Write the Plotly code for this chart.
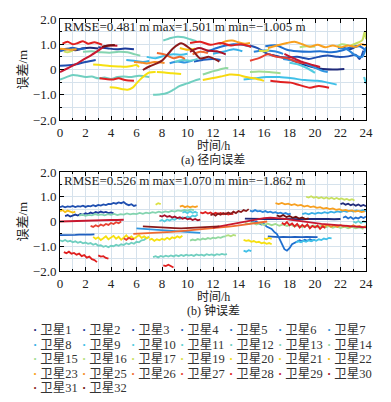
import plotly.graph_objects as go

# ---------------- satellites ----------------
sat_ids = [1, 2, 3, 4, 5, 6, 7, 8, 9, 10, 11, 12, 13, 14, 15, 16, 17,
           19, 20, 21, 22, 23, 25, 26, 27, 28, 29, 30, 31, 32]
sat_names = ["卫星%d" % i for i in sat_ids]
sat_colors = ["#1f2a7a", "#1b3a9a", "#1f4fb0", "#1f5fc0", "#2070d0", "#2a85da",
              "#2f95e0", "#38aee6", "#40c0e8", "#50cce0", "#60d0d0", "#70cfc0",
              "#84d4b0", "#90d8a0", "#a0dc90", "#b4e07c", "#c8e060", "#dce040",
              "#f6e010", "#f8d810", "#f8c010", "#f8a020", "#f48c28", "#f06a30",
              "#e84030", "#e02020", "#c81830", "#a81028", "#8b1a1a", "#701010"]

x_tick_vals = [0, 2, 4, 6, 8, 10, 12, 14, 16, 18, 20, 22, 24]
y_tick_vals = [-2, -1, 0, 1, 2]
y_tick_text = ["\u22122.0", "\u22121.0", "0", "1.0", "2.0"]

stats_a = "RMSE=0.481 m max=1.501 m min=\u22121.005 m"
stats_b = "RMSE=0.526 m max=1.070 m min=\u22121.862 m"
x_title = "时间/h"
y_title = "误差/m"
caption_a = "(a) 径向误差"
caption_b = "(b) 钟误差"

# ---------------- (a) radial error arcs: (hour, metre) ----------------
rad_01 = [[(0.0, 0.78), (0.6, 0.82), (1.2, 0.76), (1.8, 0.84), (2.4, 0.86), (3.0, 0.83)],
          [(16.6, 0.58), (17.4, 0.48), (18.2, 0.36), (19.0, 0.22), (19.8, 0.1), (20.6, 0.02), (21.4, 0.0), (22.3, 0.02)]]
rad_02 = [[(3.0, 0.88), (3.7, 0.84), (4.4, 0.8), (5.1, 0.83), (5.8, 0.8)],
          [(22.2, 0.86), (22.7, 0.8), (23.2, 0.9), (23.6, 0.95)]]
rad_03 = [[(0.0, 0.15), (0.7, 0.17), (1.4, 0.22), (2.0, 0.3), (2.8, 0.38)],
          [(14.9, 0.95), (15.5, 0.85), (16.3, 0.62), (17.0, 0.52), (17.8, 0.48), (18.6, 0.5), (19.5, 0.42),
           (20.3, 0.5), (21.0, 0.55), (21.8, 0.5), (22.6, 0.52), (23.2, 0.58), (23.5, 0.42), (23.8, 0.75)]]
rad_04 = [[(0.0, 0.72), (0.5, 0.8), (1.0, 0.86), (1.5, 0.8), (2.0, 0.84)],
          [(10.5, 0.32), (11.2, 0.38), (12.0, 0.42), (12.6, 0.38)]]
rad_05 = [[(11.5, 0.7), (12.3, 0.85), (13.0, 0.95), (13.6, 1.0), (14.3, 0.98), (15.0, 0.9)],
          [(16.1, 0.92), (17.0, 0.95), (17.8, 0.78), (18.6, 0.72), (19.5, 0.7), (20.4, 0.72), (21.3, 0.68),
           (22.1, 0.75), (22.9, 0.9), (23.5, 0.92), (24.0, 0.75)]]
rad_06 = [[(15.2, 0.7), (16.0, 0.75), (16.8, 0.72), (17.5, 0.62)],
          [(21.8, 0.85), (22.5, 0.8), (23.2, 0.55), (23.7, 0.5), (24.0, 0.88)]]
rad_07 = [[(17.5, 0.42), (18.3, 0.36), (19.0, 0.28), (19.8, 0.12), (20.5, -0.04), (21.0, -0.1)],
          [(8.6, 0.25), (9.2, 0.32), (9.8, 0.28), (10.4, 0.35)]]
rad_08 = [[(5.2, 0.38), (5.8, 0.35), (6.5, 0.3), (7.0, 0.34)],
          [(12.0, 0.62), (12.8, 0.7), (13.6, 0.8), (14.3, 0.72)]]
rad_09 = [[(6.8, 0.5), (7.5, 0.45), (8.2, 0.55), (8.9, 0.6), (9.5, 0.58), (10.0, 0.62)],
          [(14.4, -0.4), (15.3, -0.35), (16.2, -0.3), (17.2, -0.3), (18.2, -0.35), (19.2, -0.42),
           (20.2, -0.45), (21.0, -0.52), (21.7, -0.6)]]
rad_10 = [[(18.0, 0.27), (18.7, 0.2), (19.4, 0.05), (20.0, -0.13)],
          [(23.85, -0.3), (24.0, -0.55)]]
rad_11 = [[(9.0, 0.3), (9.6, 0.38), (10.2, 0.35), (10.8, 0.42)]]
rad_12 = [[(0.0, -0.4), (0.5, -0.3), (1.0, -0.22), (1.5, -0.25), (2.0, -0.3), (2.5, -0.28), (3.0, -0.35),
           (3.5, -0.32), (4.0, -0.38), (4.5, -0.3), (5.0, -0.28), (5.5, -0.3), (6.2, -0.25), (7.0, -0.3)],
          [(7.3, -1.0), (7.9, -0.98), (8.4, -0.93), (8.9, -0.8), (9.4, -0.65), (10.0, -0.55), (10.5, -0.45), (11.0, -0.38)],
          [(8.1, 1.15), (8.7, 1.25), (9.2, 1.3), (9.7, 1.28), (10.2, 1.2), (10.7, 1.12)]]
rad_13 = [[(1.8, 0.7), (2.5, 0.72), (3.2, 0.68), (3.9, 0.66), (4.6, 0.7), (5.3, 0.68), (5.9, 0.6), (6.3, 0.55)]]
rad_14 = [[(11.2, -0.2), (11.8, -0.1), (12.4, -0.02), (13.0, 0.06), (13.2, 0.05)]]
rad_15 = [[(14.9, -0.1), (15.6, -0.08), (16.4, -0.1), (17.3, -0.15)]]
rad_16 = [[(21.7, 0.9), (22.1, 1.0), (22.6, 0.95)],
          [(18.8, 0.88), (19.4, 0.92), (20.0, 0.9)]]
rad_17 = [[(0.3, 0.72), (0.6, 0.68), (1.0, 0.75)],
          [(22.8, 0.95), (23.3, 1.05), (23.7, 1.15), (23.9, 1.5), (24.0, 1.2)]]
rad_19 = [[(15.6, 0.75), (16.0, 0.72), (16.4, 0.78)]]
rad_20 = [[(2.6, 0.2), (3.2, 0.18), (3.9, 0.14), (4.6, 0.12), (5.2, 0.11), (5.7, 0.15), (6.0, 0.18), (6.2, 0.1)],
          [(3.9, -0.7), (4.4, -0.72), (4.9, -0.78), (5.3, -0.8), (5.7, -0.72), (6.0, -0.55), (6.5, -0.3),
           (7.0, -0.12), (7.5, -0.1)],
          [(7.6, -0.1), (8.2, -0.12), (8.8, -0.15), (9.5, -0.18)]]
rad_21 = [[(11.2, -0.42), (11.9, -0.35), (12.6, -0.28), (13.3, -0.2), (14.0, -0.22), (14.6, -0.3),
           (15.2, -0.35), (16.0, -0.45)]]
rad_22 = [[(9.4, 0.85), (10.0, 0.78), (10.6, 0.82)]]
rad_23 = [[(0.0, 0.82), (0.4, 0.8), (0.9, 0.78), (1.3, 0.8)],
          [(12.5, 1.0), (13.0, 1.12), (13.5, 1.15), (14.0, 1.08), (14.5, 1.02), (14.9, 1.05)],
          [(16.3, 0.85), (17.0, 0.95), (17.8, 1.05), (18.4, 1.1), (19.0, 1.0), (19.6, 0.9), (20.2, 0.98),
           (20.8, 0.88), (21.4, 0.95), (22.0, 0.88), (22.6, 0.95), (23.2, 0.9), (23.6, 1.0), (24.0, 0.95)]]
rad_25 = [[(5.8, 0.3), (6.3, 0.28), (6.8, 0.24), (7.4, 0.3), (8.2, 0.26)]]
rad_26 = [[(7.6, 0.65), (8.2, 0.6), (8.9, 0.45), (9.4, 0.5), (9.8, 0.42)],
          [(10.4, 0.6), (11.0, 0.7), (11.6, 0.65)]]
rad_27 = [[(14.9, 0.35), (15.6, 0.45), (16.3, 0.6), (17.0, 0.5), (17.8, 0.45), (18.6, 0.3), (19.2, 0.25)]]
rad_28 = [[(0.2, 1.02), (0.6, 1.1), (1.0, 1.0), (1.4, 1.05), (1.8, 1.12), (2.2, 1.02), (2.7, 1.08), (3.3, 0.98)],
          [(3.1, -0.35), (3.6, -0.38), (4.1, -0.4), (4.6, -0.35), (5.1, -0.42), (5.8, -0.45)],
          [(16.5, -0.45), (17.3, -0.5), (18.1, -0.52), (18.8, -0.62), (19.6, -0.72), (20.3, -0.65), (21.1, -0.72)],
          [(10.2, 1.05), (11.0, 1.1), (11.8, 0.98), (12.6, 1.05), (13.4, 0.95), (14.2, 1.0), (15.0, 0.9)]]
rad_29 = [[(0.0, -0.1), (0.6, 0.05), (1.2, 0.2), (1.8, 0.38), (2.4, 0.55), (3.0, 0.75), (3.5, 0.92),
           (4.0, 0.95), (4.5, 0.94)],
          [(17.6, 0.62), (18.3, 0.45), (19.0, 0.3), (19.8, 0.18), (20.4, 0.1)]]
rad_30 = [[(10.2, 0.7), (10.9, 0.85), (11.6, 0.75), (12.3, 0.72), (13.0, 0.6)]]
rad_31 = [[(6.5, -0.02), (7.0, 0.12), (7.6, 0.24), (8.0, 0.35), (8.4, 0.57), (8.9, 0.85), (9.5, 1.04),
           (10.0, 0.9), (10.5, 0.7), (11.0, 0.44), (11.7, 0.5), (12.5, 0.31)]]
rad_32 = [[(3.3, 0.9), (3.8, 0.95), (4.3, 0.97)]]

# ---------------- (b) clock error arcs: (start hour, step hour, values in metre) ----------------
clk_01 = [(14.5, 0.5, [0.12, 0.11, 0.12, 0.1, 0.11, 0.1, 0.1, 0.09, 0.1, 0.09, 0.1, 0.09, 0.1, 0.1, 0.09, 0.1]),
          (22.0, 0.2, [0.7, 0.74, 0.68, 0.72, 0.66, 0.7, 0.64, 0.69, 0.63, 0.67, 0.62])]
clk_02 = [(0.4, 0.2, [0.22, 0.26, 0.2, 0.25, 0.28, 0.24, 0.3, 0.27, 0.33, 0.3, 0.36, 0.32, 0.38, 0.35,
                      0.4, 0.36, 0.39, 0.34, 0.37, 0.33])]
clk_03 = [(0.0, 0.2, [0.58, 0.62, 0.57, 0.61, 0.59, 0.63, 0.58, 0.62, 0.6, 0.64, 0.59, 0.63, 0.61, 0.66,
                      0.62, 0.67, 0.64, 0.69, 0.66, 0.71, 0.7, 0.75, 0.72, 0.77, 0.74, 0.79, 0.7, 0.66,
                      0.7, 0.63, 0.66])]
clk_04 = [(0.0, 0.3, [-0.55, -0.54, -0.56, -0.55, -0.54, -0.53, -0.54, -0.52, -0.53, -0.52]),
          (16.3, 0.3, [-0.6, -0.62, -0.61, -0.63, -0.62, -0.64, -0.63, -0.62, -0.64, -0.63, -0.62, -0.63, -0.64, -0.63])]
clk_05 = [(15.0, 0.2, [0.02, -0.04, 0.0, -0.08, -0.12, -0.1, -0.2, -0.26, -0.3, -0.42, -0.5, -0.68, -0.9,
                       -1.12, -1.18, -1.08, -0.92, -0.86, -0.8, -0.76, -0.8, -0.74, -0.78, -0.72, -0.77, -0.73]),
          (22.2, 0.2, [0.15, 0.2, 0.12, 0.18, 0.1, 0.16, 0.12, 0.19, 0.14, 0.2])]
clk_06 = [(14.9, 0.2, [0.44, 0.4, 0.46, 0.41, 0.43, 0.38, 0.42, 0.37, 0.4, 0.35, 0.38, 0.33, 0.36, 0.31,
                       0.34, 0.29, 0.32])]
clk_07 = [(6.0, 0.5, [-0.28, -0.3, -0.32, -0.33, -0.36, -0.38, -0.4, -0.41, -0.43, -0.45, -0.46])]
clk_08 = [(19.0, 0.25, [0.3, 0.34, 0.29, 0.35, 0.31, 0.36, 0.33, 0.38, 0.34, 0.4, 0.36, 0.41, 0.38, 0.43,
                        0.39, 0.44, 0.4, 0.45, 0.41, 0.46, 0.42])]
clk_09 = [(18.5, 0.2, [-0.85, -0.8, -0.84, -0.78, -0.82, -0.76, -0.8, -0.74, -0.78, -0.72, -0.75, -0.69,
                       -0.72, -0.66, -0.68]),
          (14.4, 0.2, [-1.18, -1.22, -1.16, -1.2])]
clk_10 = [(9.6, 0.2, [0.36, 0.4, 0.34, 0.41, 0.35, 0.39, 0.33]),
          (7.8, 0.2, [0.02, 0.06, 0.0, 0.08, 0.04, 0.1, 0.07, 0.14, 0.1, 0.17, 0.13, 0.2, 0.16, 0.24, 0.2, 0.28])]
clk_11 = [(23.0, 0.2, [0.0, -0.05, 0.02, -0.06, 0.0, -0.04])]
clk_12 = [(0.0, 0.2, [-0.76, -0.8, -0.75, -0.81, -0.78, -0.84, -0.8, -0.86, -0.82, -0.88, -0.85, -0.9,
                      -0.87, -0.94, -0.9, -0.98, -0.96, -1.02, -0.99, -1.04, -0.98, -1.0, -0.94, -0.98,
                      -0.92, -0.95, -0.88, -0.92, -0.86, -0.9, -0.82, -0.84, -0.76, -0.74, -0.66, -0.63]),
          (7.3, 0.2, [-1.44, -1.4, -1.45, -1.39, -1.43, -1.38, -1.42, -1.37, -1.41, -1.36, -1.4, -1.35,
                      -1.39, -1.34, -1.38, -1.35, -1.39, -1.33, -1.37, -1.34, -1.38, -1.32, -1.36, -1.33,
                      -1.37, -1.32, -1.35, -1.31, -1.34, -1.32])]
clk_13 = [(1.5, 0.25, [0.24, 0.28, 0.23, 0.27, 0.25, 0.3, 0.26, 0.29, 0.25, 0.3, 0.27, 0.31, 0.26, 0.3,
                       0.28, 0.33, 0.29, 0.32, 0.3, 0.35, 0.31, 0.36, 0.33, 0.38, 0.35, 0.4, 0.36, 0.41,
                       0.38, 0.43, 0.4, 0.45, 0.42, 0.47, 0.44, 0.49, 0.46])]
clk_14 = [(10.2, 0.2, [-0.77, -0.73, -0.76, -0.71, -0.74, -0.69, -0.72, -0.67, -0.7, -0.65, -0.68, -0.63,
                       -0.66, -0.61, -0.6])]
clk_15 = [(14.5, 0.3, [-0.05, -0.1, -0.04, -0.12, -0.07, -0.14, -0.09, -0.15, -0.1, -0.17, -0.12, -0.18,
                       -0.13, -0.2, -0.15, -0.22, -0.17, -0.21, -0.16, -0.23, -0.18, -0.24, -0.19, -0.25,
                       -0.2, -0.26, -0.21, -0.27, -0.22, -0.28, -0.24, -0.3])]
clk_16 = [(13.0, 0.2, [-0.58, -0.55, -0.6, -0.54, -0.57])]
clk_17 = [(19.3, 0.2, [1.0, 0.97, 1.02, 0.96, 0.99, 0.94, 0.98, 0.93, 0.97, 0.92, 0.96, 0.91, 0.95, 0.9,
                       0.93, 0.88, 0.91, 0.86, 0.9, 0.85])]
clk_19 = [(7.5, 0.2, [0.68, 0.74, 0.7])]
clk_20 = [(2.6, 0.2, [-0.62, -0.7, -0.64, -0.75, -0.68, -0.6, -0.72, -0.66, -0.58, -0.7, -0.62, -0.74,
                      -0.65, -0.56, -0.68, -0.6, -0.7, -0.63, -0.55, -0.66, -0.6, -0.68, -0.62]),
          (7.0, 0.2, [-0.74, -0.7, -0.78, -0.72, -0.76, -0.7, -0.74, -0.66, -0.72, -0.64, -0.68, -0.6,
                      -0.65, -0.58]),
          (14.4, 0.2, [-0.74, -0.78, -0.76, -0.82, -0.79, -0.84, -0.82, -0.88, -0.85, -0.9, -0.87, -0.92])]
clk_21 = [(16.0, 0.2, [-0.68, -0.72, -0.66, -0.7])]
clk_22 = [(0.0, 0.2, [0.42, 0.46, 0.38, 0.44, 0.4, 0.36, 0.4])]
clk_23 = [(9.4, 0.2, [0.6, 0.64, 0.58, 0.62, 0.57, 0.61, 0.58, 0.62]),
          (16.9, 0.25, [0.74, 0.7, 0.75, 0.69, 0.72, 0.66, 0.7, 0.64, 0.67, 0.6, 0.64, 0.58, 0.61, 0.55,
                        0.58, 0.52, 0.55, 0.5, 0.53, 0.47, 0.5, 0.44, 0.47, 0.42, 0.45, 0.4, 0.43, 0.38, 0.41])]
clk_25 = [(20.5, 0.25, [-0.15, -0.2, -0.13, -0.21, -0.16, -0.22, -0.14, -0.2, -0.17, -0.23, -0.15, -0.21,
                        -0.18, -0.24, -0.19])]
clk_26 = [(5.75, 0.5, [-0.5, -0.49, -0.48, -0.46, -0.45, -0.43, -0.42, -0.4, -0.38, -0.36, -0.34, -0.32,
                       -0.3, -0.27, -0.24, -0.21, -0.18, -0.15, -0.11, -0.08, -0.04, 0.0])]
clk_27 = [(2.4, 0.2, [-0.18, -0.22, -0.15, -0.2, -0.12, -0.17, -0.1, -0.14, -0.06, -0.1, -0.03, -0.07, 0.0]),
          (5.0, 0.2, [-0.68, -0.74, -0.66, -0.72, -0.7])]
clk_28 = [(0.3, 0.2, [-1.24, -1.28, -1.22, -1.3, -1.27, -1.34, -1.3, -1.4, -1.36, -1.46, -1.42, -1.52,
                      -1.56, -1.64]),
          (3.0, 0.2, [-1.37, -1.42, -1.4, -1.47, -1.5]),
          (8.1, 0.2, [-1.77, -1.8, -1.75, -1.82, -1.86]),
          (11.0, 0.2, [0.37, 0.33, 0.38, 0.32, 0.36, 0.3, 0.35, 0.31, 0.34, 0.29, 0.33, 0.28, 0.32, 0.3]),
          (17.4, 0.2, [-0.05, -0.12, -0.02, -0.15, -0.08, -0.2, -0.1, -0.25, -0.14, -0.22, -0.12, -0.28,
                       -0.18, -0.24, -0.16, -0.3, -0.2, -0.26])]
clk_29 = [(0.0, 0.5, [0.0, 0.01, 0.02, 0.02, 0.03, 0.04, 0.04, 0.05, 0.06, 0.06, 0.07]),
          (12.0, 0.5, [-0.25, -0.2, -0.15, -0.1, -0.05, 0.0, 0.05, 0.1, 0.14, 0.16, 0.15, 0.12, 0.08, 0.04,
                       0.0, -0.04, -0.08, -0.1, -0.12, -0.14, -0.16, -0.18, -0.2, -0.22, -0.24])]
clk_30 = [(7.8, 0.2, [0.24, 0.2, 0.25, 0.19, 0.22, 0.16, 0.2, 0.14, 0.17, 0.11, 0.15, 0.09, 0.12, 0.06,
                      0.1, 0.05, 0.08])]
clk_31 = [(11.8, 0.2, [0.25, 0.3, 0.24, 0.32, 0.27, 0.34, 0.29, 0.36, 0.31, 0.4, 0.34, 0.42, 0.38, 0.46,
                       0.42, 0.5]),
          (6.5, 0.5, [-0.2, -0.22, -0.23, -0.25, -0.26, -0.27, -0.28, -0.27, -0.26, -0.25, -0.24, -0.22, -0.2])]
clk_32 = [(17.0, 0.25, [0.25, 0.2, 0.26, 0.18, 0.22, 0.15, 0.19, 0.12, 0.16, 0.1, 0.13])]

rad_data = [rad_01, rad_02, rad_03, rad_04, rad_05, rad_06, rad_07, rad_08, rad_09, rad_10, rad_11,
            rad_12, rad_13, rad_14, rad_15, rad_16, rad_17, rad_19, rad_20, rad_21, rad_22, rad_23,
            rad_25, rad_26, rad_27, rad_28, rad_29, rad_30, rad_31, rad_32]
clk_data = [clk_01, clk_02, clk_03, clk_04, clk_05, clk_06, clk_07, clk_08, clk_09, clk_10, clk_11,
            clk_12, clk_13, clk_14, clk_15, clk_16, clk_17, clk_19, clk_20, clk_21, clk_22, clk_23,
            clk_25, clk_26, clk_27, clk_28, clk_29, clk_30, clk_31, clk_32]


def rad_xy(arcs):
    xs, ys = [], []
    for arc in arcs:
        for t, v in arc:
            xs.append(t)
            ys.append(v)
        xs.append(None)
        ys.append(None)
    return xs, ys


def clk_xy(arcs):
    xs, ys = [], []
    for start, step, vals in arcs:
        for i, v in enumerate(vals):
            xs.append(start + i * step)
            ys.append(v)
        xs.append(None)
        ys.append(None)
    return xs, ys


fig = go.Figure()
for name, col, arcs in zip(sat_names, sat_colors, rad_data):
    x, y = rad_xy(arcs)
    fig.add_trace(go.Scatter(x=x, y=y, mode="lines", name=name, legendgroup=name,
                             line=dict(color=col, width=2, shape="spline", smoothing=0.8),
                             xaxis="x", yaxis="y", showlegend=False))
for name, col, arcs in zip(sat_names, sat_colors, clk_data):
    x, y = clk_xy(arcs)
    fig.add_trace(go.Scatter(x=x, y=y, mode="lines", name=name, legendgroup=name,
                             line=dict(color=col, width=1.8),
                             xaxis="x2", yaxis="y2", showlegend=False))

FONT = "Liberation Serif, Times New Roman, Noto Sans CJK SC"
# the page body has an 8 px margin, so the figure is sized / placed accordingly
W, H = 383, 394
L, R = 52, 358
TOP_A, BOT_A = 11, 112
TOP_B, BOT_B = 164, 263
grid_c = "#d6e2ec"
txt_c = "#222"


def px_x(x):
    return x / W


def px_y(y):
    return 1 - y / H


def xaxis_cfg(anchor):
    return dict(domain=[px_x(L), px_x(R)], anchor=anchor, range=[0, 24], automargin=False,
                tickmode="array", tickvals=x_tick_vals, ticks="inside", ticklen=4,
                tickcolor="black", showgrid=True, gridcolor=grid_c, gridwidth=1,
                minor=dict(tickmode="linear", tick0=0, dtick=1, showgrid=True, gridcolor=grid_c,
                           ticks="inside", ticklen=2, tickcolor="black"),
                showline=True, linecolor="black", linewidth=1, mirror="ticks", zeroline=False,
                tickfont=dict(size=13, color=txt_c))


def yaxis_cfg(anchor, top, bot):
    return dict(domain=[px_y(bot), px_y(top)], anchor=anchor, range=[-2, 2], automargin=False,
                tickmode="array", tickvals=y_tick_vals, ticktext=y_tick_text,
                ticks="inside", ticklen=4, tickcolor="black",
                showgrid=True, gridcolor=grid_c, gridwidth=1,
                minor=dict(tickmode="linear", tick0=0, dtick=0.5, showgrid=True, gridcolor=grid_c,
                           ticks="inside", ticklen=2, tickcolor="black"),
                showline=True, linecolor="black", linewidth=1, mirror="ticks", zeroline=False,
                tickfont=dict(size=13, color=txt_c))


def note(text, x, y, size=13, xanchor="center", angle=0, color=txt_c):
    return dict(text=text, xref="paper", yref="paper", x=px_x(x), y=px_y(y),
                xanchor=xanchor, yanchor="middle", showarrow=False, textangle=angle,
                borderpad=0, font=dict(size=size, color=color))


cx = (L + R) / 2
annotations = [
    note(stats_a, L + 3, TOP_A + 8, xanchor="left"),
    note(stats_b, L + 3, TOP_B + 8, xanchor="left"),
    note(x_title, cx, BOT_A + 25.5, size=12),
    note(x_title, cx, BOT_B + 25.5, size=12),
    note(caption_a, cx, 151, size=12),
    note(caption_b, cx, 302.5, size=12),
    note(y_title, 14, (TOP_A + BOT_A) / 2, angle=-90),
    note(y_title, 14, (TOP_B + BOT_B) / 2, angle=-90),
]
for k, (name, col) in enumerate(zip(sat_names, sat_colors)):
    row, colm = divmod(k, 7)
    annotations.append(note("<span style='color:%s'><b>·</b></span> %s" % (col, name),
                            24 + 49 * colm, 322 + 14.6 * row, size=12.5, xanchor="left",
                            color="#333"))

fig.update_layout(
    width=W, height=H, margin=dict(l=0, r=0, t=0, b=0, autoexpand=False),
    paper_bgcolor="white", plot_bgcolor="white", showlegend=False,
    font=dict(family=FONT, size=13, color=txt_c),
    xaxis=xaxis_cfg("y"),
    yaxis=yaxis_cfg("x", TOP_A, BOT_A),
    xaxis2=xaxis_cfg("y2"),
    yaxis2=yaxis_cfg("x2", TOP_B, BOT_B),
    annotations=annotations,
)

fig.write_html("out.html")
